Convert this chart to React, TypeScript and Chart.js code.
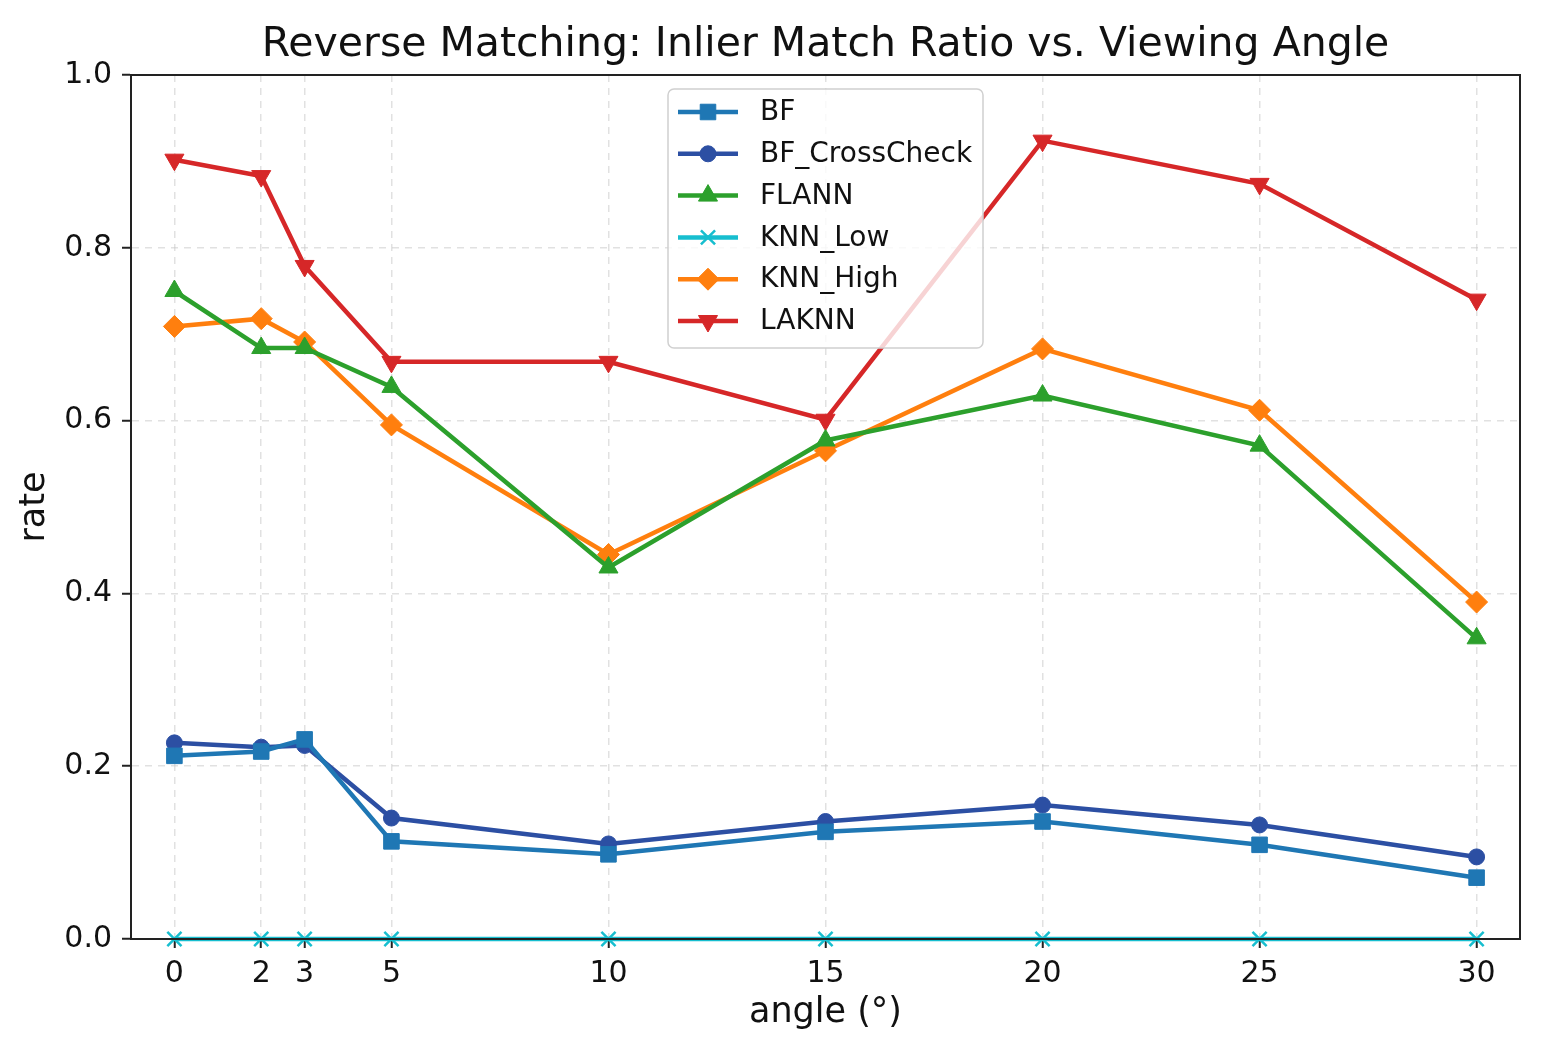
import React, { useEffect, useRef } from "react";
import { Chart, registerables } from "chart.js";
import { drawPoint } from "chart.js/helpers";

Chart.register(...registerables);

const angles = [0, 2, 3, 5, 10, 15, 20, 25, 30];
const bf = [0.212, 0.217, 0.231, 0.113, 0.098, 0.124, 0.136, 0.109, 0.071];
const bfCrossCheck = [0.227, 0.222, 0.224, 0.140, 0.110, 0.136, 0.155, 0.132, 0.095];
const flann = [0.750, 0.684, 0.684, 0.639, 0.430, 0.577, 0.629, 0.571, 0.348];
const knnLow = [0, 0, 0, 0, 0, 0, 0, 0, 0];
const knnHigh = [0.709, 0.718, 0.691, 0.595, 0.445, 0.565, 0.683, 0.612, 0.390];
const laknn = [0.902, 0.883, 0.779, 0.668, 0.668, 0.601, 0.924, 0.874, 0.740];
const yTicks = [0, 0.2, 0.4, 0.6, 0.8, 1.0];

const FONT = "'DejaVu Sans', sans-serif";

const series = [
  { label: "BF", data: bf, color: "#1f77b4", style: "rect", radius: 11, rotation: 0 },
  { label: "BF_CrossCheck", data: bfCrossCheck, color: "#2c4fa3", style: "circle", radius: 8, rotation: 0 },
  { label: "FLANN", data: flann, color: "#2ca02c", style: "triangle", radius: 11, rotation: 0 },
  { label: "KNN_Low", data: knnLow, color: "#17becf", style: "crossRot", radius: 10, rotation: 0 },
  { label: "KNN_High", data: knnHigh, color: "#ff7f0e", style: "rectRot", radius: 11, rotation: 0 },
  { label: "LAKNN", data: laknn, color: "#d62728", style: "triangle", radius: 11, rotation: 180 },
];

// title, full axes box, and matplotlib-like legend
const decorations = {
  id: "decorations",
  afterDatasetsDraw(chart: any) {
    const { ctx, chartArea } = chart;
    ctx.save();
    // box around plot
    ctx.strokeStyle = "#222";
    ctx.lineWidth = 2;
    ctx.strokeRect(chartArea.left, chartArea.top, chartArea.right - chartArea.left, chartArea.bottom - chartArea.top);

    // title
    ctx.fillStyle = "#111";
    ctx.font = `41px ${FONT}`;
    ctx.textAlign = "center";
    ctx.textBaseline = "middle";
    ctx.fillText("Reverse Matching: Inlier Match Ratio vs. Viewing Angle", (chartArea.left + chartArea.right) / 2, 45);

    // legend
    const bx = 668, by = 89, bw = 315, bh = 259;
    ctx.beginPath();
    ctx.roundRect(bx, by, bw, bh, 6);
    ctx.fillStyle = "rgba(255,255,255,0.8)";
    ctx.fill();
    ctx.strokeStyle = "#d0d0d0";
    ctx.lineWidth = 1.5;
    ctx.stroke();

    chart.data.datasets.forEach((ds: any, i: number) => {
      const y = 112 + i * 41.8;
      ctx.strokeStyle = ds.borderColor;
      ctx.lineWidth = ds.borderWidth;
      ctx.beginPath();
      ctx.moveTo(678, y);
      ctx.lineTo(738, y);
      ctx.stroke();
      ctx.fillStyle = ds.pointBackgroundColor;
      ctx.strokeStyle = ds.pointBorderColor;
      ctx.lineWidth = ds.pointBorderWidth;
      drawPoint(ctx, { pointStyle: ds.pointStyle, rotation: ds.pointRotation, radius: ds.pointRadius, borderWidth: ds.pointBorderWidth } as any, 708, y);
      ctx.fillStyle = "#111";
      ctx.font = `28px ${FONT}`;
      ctx.textAlign = "left";
      ctx.textBaseline = "middle";
      ctx.fillText(ds.label, 760, y + 1);
    });
    ctx.restore();
  },
};

const gridOpts = {
  color: "rgba(200,200,200,0.55)",
  lineWidth: 1.5,
  drawTicks: true,
  tickLength: 9,
  tickColor: "#222",
  tickWidth: 2,
  tickBorderDash: [],
};

export default function App() {
  const canvasRef = useRef<HTMLCanvasElement>(null);
  const chartRef = useRef<Chart | null>(null);

  useEffect(() => {
    if (!canvasRef.current) return;
    document.body.style.margin = "0";

    chartRef.current?.destroy();
    chartRef.current = new Chart(canvasRef.current, {
      type: "line",
      data: {
        datasets: series.map((s) => ({
          label: s.label,
          data: angles.map((a, i) => ({ x: a, y: s.data[i] })),
          borderColor: s.color,
          backgroundColor: s.color,
          borderWidth: 4.5,
          pointStyle: s.style,
          pointRadius: s.radius,
          pointRotation: s.rotation,
          pointBackgroundColor: s.color,
          pointBorderColor: s.color,
          pointBorderWidth: s.style === "crossRot" ? 2.5 : 1,
          tension: 0,
          clip: false,
        })),
      } as any,
      options: {
        animation: false,
        responsive: false,
        maintainAspectRatio: false,
        devicePixelRatio: 1,
        layout: { padding: { top: 75, right: 33, left: 0, bottom: 0 } },
        plugins: {
          legend: { display: false },
          title: { display: false },
          tooltip: { enabled: false },
        },
        scales: {
          x: {
            type: "linear",
            min: -1,
            max: 31,
            afterBuildTicks: (scale: any) => {
              scale.ticks = angles.map((v) => ({ value: v }));
            },
            afterFit: (scale: any) => {
              scale.height = 123;
            },
            grid: gridOpts,
            border: { display: true, color: "#222", width: 2, dash: [7, 6] },
            ticks: {
              color: "#111",
              font: { family: FONT, size: 30 },
              padding: 8,
              maxRotation: 0,
              autoSkip: false,
              callback: (v: any) => String(v),
            },
            title: {
              display: true,
              text: "angle (°)",
              color: "#111",
              font: { family: FONT, size: 35 },
              padding: { top: 4, bottom: 28 },
            },
          },
          y: {
            type: "linear",
            min: 0,
            max: 1,
            afterBuildTicks: (scale: any) => {
              scale.ticks = yTicks.map((v) => ({ value: v }));
            },
            afterFit: (scale: any) => {
              scale.width = 131;
            },
            grid: gridOpts,
            border: { display: true, color: "#222", width: 2, dash: [7, 6] },
            ticks: {
              color: "#111",
              font: { family: FONT, size: 30 },
              padding: 10,
              callback: (v: any) => Number(v).toFixed(1),
            },
            title: {
              display: true,
              text: "rate",
              color: "#111",
              font: { family: FONT, size: 35 },
              padding: { top: 14, bottom: 0 },
            },
          },
        },
      } as any,
      plugins: [decorations],
    });

    return () => chartRef.current?.destroy();
  }, []);

  return (
    <div style={{ width: 1553, height: 1062, background: "#fff" }}>
      <canvas ref={canvasRef} width={1553} height={1062} />
    </div>
  );
}
